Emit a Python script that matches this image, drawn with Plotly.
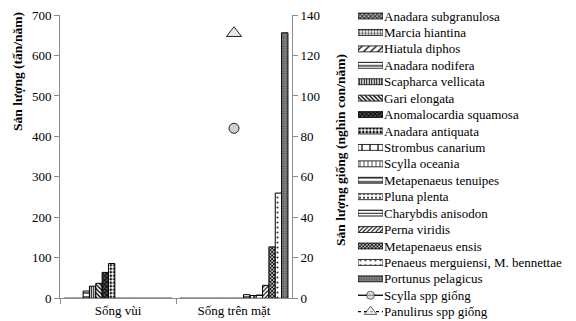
import plotly.graph_objects as go

# ---- data -------------------------------------------------------------
categories = ["Sống vùi", "Sống trên mặt"]

species = [
    "Anadara subgranulosa", "Marcia hiantina", "Hiatula diphos",
    "Anadara nodifera", "Scapharca vellicata", "Gari elongata",
    "Anomalocardia squamosa", "Anadara antiquata", "Strombus canarium",
    "Scylla oceania", "Metapenaeus tenuipes", "Pluna plenta",
    "Charybdis anisodon", "Perna viridis", "Metapenaeus ensis",
    "Penaeus merguiensi, M. bennettae", "Portunus pelagicus",
]
# production, tonnes / year
song_vui = [0, 0, 0, 18, 30, 37, 64, 86, 0, 0, 0, 0, 0, 0, 0, 0, 0]
song_tren_mat = [0, 0, 0, 0, 0, 0, 0, 0, 0, 0, 9, 7, 8, 32, 127, 260, 656]

# seed production, thousand individuals / year (right axis)
seed_names = ["Scylla spp giống", "Panulirus spp giống"]
seed_values = [84, 131]

left_ticks = [0, 100, 200, 300, 400, 500, 600, 700]
right_ticks = [0, 20, 40, 60, 80, 100, 120, 140]

# ---- styles (pattern shape, fg, bg, size, solidity) per species -------
styles = [
    ("x", "#222222", "#bbbbbb", 3, 0.5),
    (".", "#555555", "#ffffff", 3, 0.45),
    ("/", "#000000", "#ffffff", 5, 0.25),
    ("-", "#000000", "#ffffff", 4, 0.3),
    ("|", "#000000", "#ffffff", 2.5, 0.45),
    ("\\", "#000000", "#ffffff", 3, 0.45),
    ("x", "#000000", "#555555", 3, 0.5),
    (".", "#000000", "#ffffff", 3.5, 0.4),
    ("|", "#000000", "#ffffff", 8, 0.15),
    ("|", "#555555", "#ffffff", 4, 0.25),
    ("-", "#000000", "#ffffff", 4, 0.3),
    (".", "#444444", "#ffffff", 4, 0.25),
    ("-", "#000000", "#ffffff", 3, 0.3),
    ("/", "#000000", "#ffffff", 3, 0.35),
    ("x", "#000000", "#ffffff", 2.5, 0.6),
    (".", "#333333", "#ffffff", 5, 0.15),
    (".", "#444444", "#8a8a8a", 2.5, 0.35),
]

FONT = "Liberation Serif, Times New Roman, serif"
W, H = 576, 321


def pattern_marker(style, line_width):
    shp, fg, bg, sz, sol = style
    return dict(color=bg, line=dict(color="#000000", width=line_width),
                pattern=dict(shape=shp, fgcolor=fg, bgcolor=bg, size=sz,
                             solidity=sol, fillmode="replace"))


fig = go.Figure()

# ---- main clustered bars ---------------------------------------------
for i, name in enumerate(species):
    fig.add_trace(go.Bar(
        x=categories, y=[song_vui[i], song_tren_mat[i]], name=name,
        marker=pattern_marker(styles[i], 1),
        xaxis="x", yaxis="y", showlegend=False,
    ))

# seed markers on the secondary axis
seed_markers = [
    dict(symbol="circle", size=10, color="#cfcfcf",
         line=dict(color="#222222", width=1)),
    dict(symbol="triangle-up", size=13, color="#e8e8e8",
         line=dict(color="#222222", width=1)),
]
for name, val, mk in zip(seed_names, seed_values, seed_markers):
    fig.add_trace(go.Scatter(
        x=[categories[1]], y=[val], mode="markers", name=name,
        marker=mk, xaxis="x", yaxis="y2", showlegend=False,
    ))

# ---- key: swatches drawn on their own small axes ---------------------
key_names = species + seed_names
for i, name in enumerate(species):
    fig.add_trace(go.Bar(
        y=[name], x=[1], orientation="h", width=0.36, offsetgroup="key",
        marker=pattern_marker(styles[i], 0.8),
        xaxis="x3", yaxis="y3", showlegend=False, hoverinfo="skip",
    ))
key_dash = ["solid", "dot"]
for name, mk, dash in zip(seed_names, seed_markers, key_dash):
    m = dict(mk)
    m["size"] = [0, mk["size"] - 2, 0]
    fig.add_trace(go.Scatter(
        x=[0, 0.5, 1], y=[name] * 3, mode="lines+markers",
        line=dict(color="#000000", width=1.3, dash=dash),
        marker=m, xaxis="x3", yaxis="y3", showlegend=False,
        hoverinfo="skip",
    ))

axis_line = "#8c8c8c"
tick_font = dict(family=FONT, size=13, color="#000000")

fig.update_layout(
    width=W, height=H,
    margin=dict(l=0, r=0, t=0, b=0),
    paper_bgcolor="#ffffff", plot_bgcolor="rgba(0,0,0,0)",
    barmode="group", bargap=0.07, bargroupgap=0,
    showlegend=False,
    font=dict(family=FONT, size=13, color="#000000"),
    xaxis=dict(
        domain=[60 / W, 292 / W], type="category",
        showline=True, linecolor=axis_line, linewidth=1,
        ticks="outside", ticklen=5, tickcolor=axis_line,
        tickson="boundaries", showgrid=False, zeroline=False,
        tickfont=tick_font, automargin=False,
    ),
    yaxis=dict(
        domain=[(H - 298.3) / H, (H - 15) / H], range=[0, 700],
        tickvals=left_ticks, showline=True, linecolor=axis_line,
        ticks="outside", ticklen=5, tickcolor=axis_line,
        showgrid=False, zeroline=False, tickfont=tick_font,
        automargin=False,
    ),
    yaxis2=dict(
        overlaying="y", side="right", anchor="x", range=[0, 140],
        tickvals=right_ticks, showline=True, linecolor=axis_line,
        ticks="outside", ticklen=5, tickcolor=axis_line,
        showgrid=False, zeroline=False, tickfont=tick_font,
        automargin=False,
    ),
    xaxis3=dict(
        domain=[358 / W, 383 / W], range=[0, 1], anchor="y3",
        visible=False, fixedrange=True,
    ),
    yaxis3=dict(
        domain=[(H - 319.9) / H, (H - 7.8) / H], anchor="x3",
        type="category", categoryorder="array", categoryarray=key_names,
        range=[len(key_names) - 0.5, -0.5], side="right",
        tickmode="array", tickvals=key_names, ticktext=key_names,
        showline=False, showgrid=False, zeroline=False, ticks="",
        ticklabelstandoff=0, tickfont=tick_font, automargin=False,
        fixedrange=True,
    ),
    annotations=[
        dict(text="<b>Sản lượng (tấn/năm)</b>", textangle=-90,
             x=17 / W, y=(H - 72) / H, xref="paper", yref="paper",
             xanchor="center", yanchor="middle",
             showarrow=False, font=dict(family=FONT, size=13.5)),
        dict(text="<b>Sản lượng giống (nghìn con/năm)</b>", textangle=-90,
             x=340 / W, y=(H - 150) / H, xref="paper", yref="paper",
             xanchor="center", yanchor="middle",
             showarrow=False, font=dict(family=FONT, size=13.5)),
    ],
)

fig.write_html("out.html")
